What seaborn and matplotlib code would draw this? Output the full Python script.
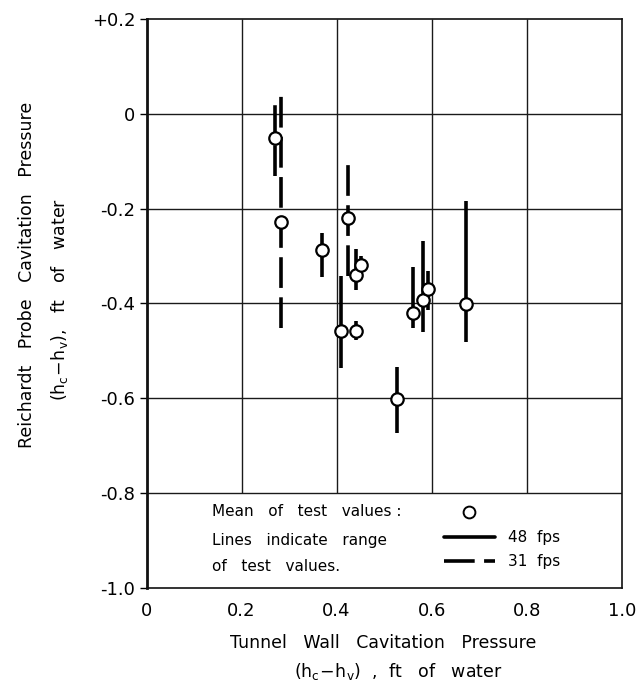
import matplotlib
matplotlib.use("Agg")
import matplotlib.pyplot as plt
import seaborn as sns
import pandas as pd
from matplotlib.lines import Line2D

# ---- data ----
wall_pressure = [0.270, 0.284, 0.370, 0.423, 0.409, 0.441, 0.452, 0.440, 0.560, 0.581, 0.592, 0.673, 0.527]
probe_mean    = [-0.051, -0.229, -0.288, -0.219, -0.458, -0.339, -0.319, -0.458, -0.421, -0.392, -0.370, -0.402, -0.602]
probe_high    = [0.038, 0.042, -0.251, -0.102, -0.341, -0.286, -0.300, -0.436, -0.322, -0.269, -0.331, -0.183, -0.533]
probe_low     = [-0.132, -0.452, -0.344, -0.342, -0.537, -0.372, -0.333, -0.477, -0.452, -0.461, -0.413, -0.481, -0.674]
speed         = ["31 fps", "31 fps", "48 fps", "31 fps", "48 fps", "48 fps", "48 fps", "48 fps", "48 fps", "48 fps", "48 fps", "48 fps", "48 fps"]

x_ticks = [0, 0.2, 0.4, 0.6, 0.8, 1.0]
x_tick_labels = ["0", "0.2", "0.4", "0.6", "0.8", "1.0"]
y_ticks = [0.2, 0.0, -0.2, -0.4, -0.6, -0.8, -1.0]
y_tick_labels = ["+0.2", "0", "-0.2", "-0.4", "-0.6", "-0.8", "-1.0"]

df = pd.DataFrame({"x": wall_pressure, "mean": probe_mean, "hi": probe_high,
                   "lo": probe_low, "speed": speed})

sns.set_theme(style="white")
plt.rcParams["font.family"] = ["DejaVu Sans"]
plt.rcParams["mathtext.default"] = "regular"
for k in ["text.color", "axes.labelcolor", "xtick.color", "ytick.color"]:
    plt.rcParams[k] = "black"

fig = plt.figure(figsize=(6.37, 6.9), dpi=100)
ax = fig.add_axes([146.5 / 637, 1 - 588 / 690, (621.7 - 146.5) / 637, (588 - 19) / 690])

ax.set_xlim(0, 1.0)
ax.set_ylim(-1.0, 0.2)

# grid: horizontal full width, vertical only above the legend row
for yv in y_ticks[1:-1]:
    ax.axhline(yv, color="#1a1a1a", lw=1.0, zorder=1)
ax.vlines(x_ticks[1:-1], -0.8, 0.2, color="#1a1a1a", lw=1.0, zorder=1)

LW = 2.6
dash = (0, (8.5, 2.6))
for spd, ls in [("48 fps", "solid"), ("31 fps", dash)]:
    sub = df[df["speed"] == spd]
    ax.vlines(sub["x"], sub["lo"], sub["hi"], colors="black", linewidth=LW,
              linestyles=ls, zorder=2)

sns.scatterplot(data=df, x="x", y="mean", ax=ax, s=80, marker="o",
                facecolor="white", edgecolor="black", linewidth=1.6, zorder=3,
                legend=False)

# spines
for side in ["top", "right", "bottom"]:
    ax.spines[side].set_color("#111111")
    ax.spines[side].set_linewidth(1.2)
ax.spines["left"].set_color("#111111")
ax.spines["left"].set_linewidth(2.0)

ax.set_xticks(x_ticks)
ax.set_xticklabels(x_tick_labels, fontsize=13)
ax.set_yticks(y_ticks)
ax.set_yticklabels(y_tick_labels, fontsize=13)
ax.tick_params(axis="x", length=0, pad=10)
ax.tick_params(axis="y", length=5, width=1.0, direction="out", pad=3, left=True)
ax.set_xlabel("")
ax.set_ylabel("")

# legend text block (inside bottom row)
lt = dict(fontsize=11, color="black", va="center", ha="left")
ax.text(0.137, -0.839, "Mean   of   test   values :", **lt)
ax.text(0.137, -0.899, "Lines   indicate   range", **lt)
ax.text(0.137, -0.955, "of   test   values.", **lt)

handles = [
    Line2D([], [], ls="none", marker="o", markersize=8.5, markerfacecolor="white",
           markeredgecolor="black", markeredgewidth=1.4),
    Line2D([], [], color="black", lw=LW, ls="solid"),
    Line2D([], [], color="black", lw=LW, ls=dash),
]
ax.legend(handles, [" ", "48  fps", "31  fps"], loc="upper left",
          bbox_to_anchor=(0.625, 0.145), frameon=False, fontsize=11,
          handlelength=3.4, handletextpad=0.8, labelspacing=0.62,
          borderpad=0, borderaxespad=0)

# axis labels
fig.text(383 / 637, 1 - 643 / 690, "Tunnel   Wall   Cavitation   Pressure",
         fontsize=12.5, ha="center", va="center")
fig.text(398 / 637, 1 - 672 / 690, r"$(h_c\!-\!h_v)$  ,  ft   of   water",
         fontsize=12.5, ha="center", va="center")
fig.text(27 / 637, 1 - 275 / 690, "Reichardt   Probe   Cavitation   Pressure",
         fontsize=12.5, ha="center", va="center", rotation=90)
fig.text(60 / 637, 1 - 300 / 690, r"$(h_c\!-\!h_v)$,   ft   of   water",
         fontsize=12.5, ha="center", va="center", rotation=90)

fig.savefig("out.png", dpi=100, facecolor="white")
